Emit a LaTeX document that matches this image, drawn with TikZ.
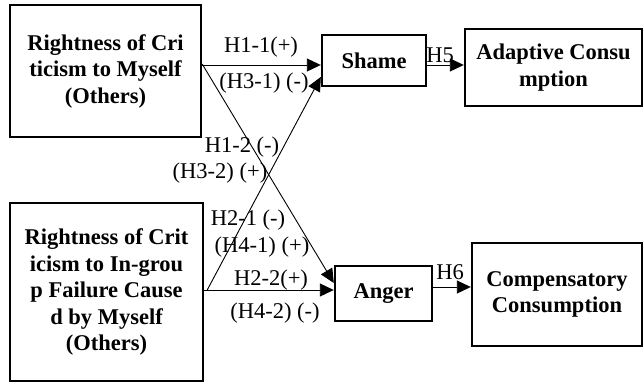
\documentclass[tikz,border=0pt]{standalone}
\usepackage{fontspec}
\setmainfont{Liberation Serif}
\usetikzlibrary{arrows.meta}
\begin{document}
\begin{tikzpicture}[x=1pt,y=-1pt,
  box/.style={draw, line width=2.4pt, align=center, font=\fontsize{22.5}{26.5}\selectfont\bfseries, inner sep=0pt},
  lab/.style={font=\fontsize{22.5}{24}\selectfont, inner sep=0pt},
  conn/.style={line width=0.9pt, -{Triangle[length=14pt,width=13pt]}}]
\useasboundingbox (0,0) rectangle (644,383);
\node[box, minimum width=191pt, minimum height=132pt] (b1) at (105.5,71) {Rightness of Cri\\ticism to Myself\\(Others)};
\node[box, minimum width=193pt, minimum height=178pt] (b2) at (106.5,292) {Rightness of Crit\\icism to In-grou\\p Failure Cause\\d by Myself\\(Others)};
\node[box, minimum width=104pt, minimum height=51pt] (shame) at (374,60.5) {Shame};
\node[box, minimum width=177pt, minimum height=77pt] (adapt) at (553.5,67.5) {Adaptive Consu\\mption};
\node[box, minimum width=97pt, minimum height=55pt] (anger) at (383.5,293.5) {Anger};
\node[box, minimum width=170pt, minimum height=103pt] (comp) at (557,294.5) {Compensatory\\Consumption};
\draw[conn] ([yshift=6pt]b1.east) -- ([yshift=-4.5pt]shame.west);
\draw[conn] ([yshift=7pt]b1.east) -- ([yshift=10.5pt]anger.west);
\draw[conn] ([yshift=2pt]b2.east) -- ([yshift=3.5pt]anger.west);
\draw[conn] ([xshift=3pt,yshift=2pt]b2.east) -- ([yshift=-16.5pt]shame.west);
\draw[conn] ([yshift=-4.5pt]shame.east) -- ([yshift=2.5pt]adapt.west);
\draw[conn] ([yshift=6.5pt]anger.east) -- ([yshift=7.5pt]comp.west);
\node[lab] (l11) at (261,47) {H1-1(+)};
\node[lab] (l31) at (264,83) {(H3-1) (-)};
\node[lab] (l12) at (242,147) {H1-2 (-)};
\node[lab] (l32) at (220,173) {(H3-2) (+)};
\node[lab] (l21) at (248,220) {H2-1 (-)};
\node[lab] (l41) at (262,247) {(H4-1) (+)};
\node[lab] (l22) at (271,280) {H2-2(+)};
\node[lab] (l42) at (275,313) {(H4-2) (-)};
\node[lab] (l5) at (440,55) {H5};
\node[lab] (l6) at (450,272) {H6};
\end{tikzpicture}
\end{document}
